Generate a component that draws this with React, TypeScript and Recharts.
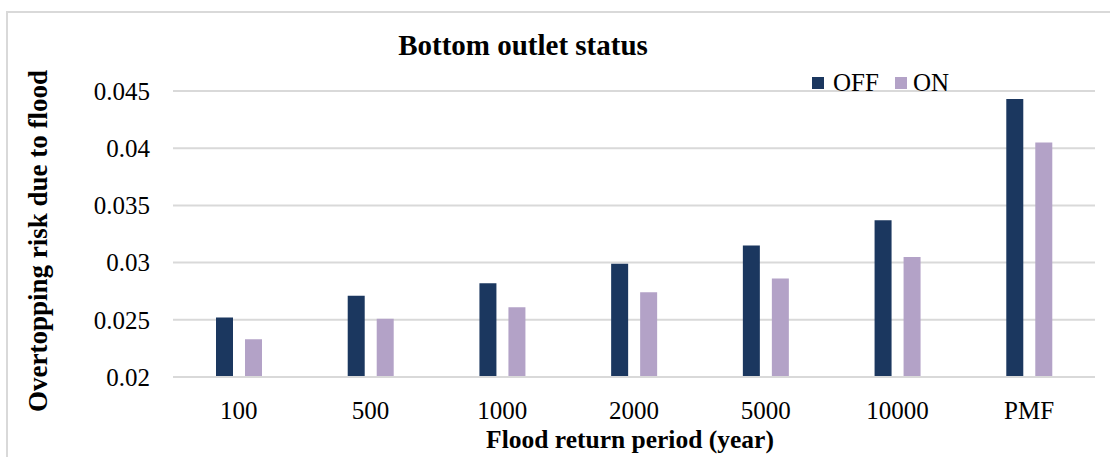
import React from "react";
import {
  BarChart,
  Bar,
  XAxis,
  YAxis,
  CartesianGrid,
  Legend,
} from "recharts";

const periods = ["100", "500", "1000", "2000", "5000", "10000", "PMF"];
const offValues = [0.0252, 0.0271, 0.0282, 0.0299, 0.0315, 0.0337, 0.0443];
const onValues = [0.0233, 0.0251, 0.0261, 0.0274, 0.0286, 0.0305, 0.0405];
const yTicks = [0.02, 0.025, 0.03, 0.035, 0.04, 0.045];

const seriesNames = ["OFF", "ON"];
const seriesColors = ["#1B375F", "#B3A2C7"];

const font = "'Liberation Serif', 'Times New Roman', serif";

const data = periods.map((p, i) => ({
  period: p,
  OFF: offValues[i],
  ON: onValues[i],
}));

const LegendBox = () => (
  <div
    style={{
      display: "flex",
      alignItems: "center",
      fontFamily: font,
      fontSize: 25,
      color: "#000",
      lineHeight: 1,
    }}
  >
    <span
      style={{
        width: 12,
        height: 12,
        background: seriesColors[0],
        marginRight: 9,
        display: "inline-block",
      }}
    />
    <span style={{ marginRight: 16 }}>{seriesNames[0]}</span>
    <span
      style={{
        width: 12,
        height: 12,
        background: seriesColors[1],
        marginRight: 6,
        display: "inline-block",
      }}
    />
    <span>{seriesNames[1]}</span>
  </div>
);

const App: React.FC = () => {
  return (
    <div
      style={{
        position: "absolute",
        left: 0,
        top: 0,
        width: 1110,
        height: 457,
        overflow: "hidden",
        background: "#fff",
      }}
    >
      {/* frame of the chart area, cut off on the right and bottom */}
      <div
        style={{
          position: "absolute",
          left: 6,
          top: 11,
          width: 1200,
          height: 500,
          border: "2px solid #D9D9D9",
        }}
      />
      <div
        style={{
          position: "absolute",
          left: 0,
          width: 1046,
          top: 31,
          textAlign: "center",
          fontFamily: font,
          fontWeight: "bold",
          fontSize: 29,
          lineHeight: 1,
          color: "#000",
        }}
      >
        Bottom outlet status
      </div>
      <div style={{ position: "absolute", left: 0, top: 0 }}>
        <BarChart
          width={1110}
          height={457}
          data={data}
          margin={{ top: 91, right: 15, bottom: 0, left: 0 }}
          barSize={17}
          barGap={12}
        >
          <CartesianGrid
            vertical={false}
            stroke="#D9D9D9"
            strokeWidth={2}
          />
          <XAxis
            dataKey="period"
            height={80}
            axisLine={{ stroke: "#D9D9D9", strokeWidth: 2 }}
            tickLine={false}
            tickSize={0}
            tickMargin={24}
            tick={{ fontFamily: font, fontSize: 25, fill: "#000" }}
            label={{
              content: () => (
                <text
                  x={630}
                  y={448}
                  textAnchor="middle"
                  fontFamily={font}
                  fontWeight="bold"
                  fontSize={25.5}
                  fill="#000"
                >
                  Flood return period (year)
                </text>
              ),
            }}
          />
          <YAxis
            width={173}
            domain={[0.02, 0.045]}
            ticks={yTicks}
            allowDataOverflow
            axisLine={false}
            tickLine={false}
            tickSize={0}
            tickMargin={23}
            tick={{ fontFamily: font, fontSize: 25, fill: "#000" }}
            label={{
              content: () => (
                <text
                  x={47}
                  y={241}
                  transform="rotate(-90 47 241)"
                  textAnchor="middle"
                  fontFamily={font}
                  fontWeight="bold"
                  fontSize={27}
                  fill="#000"
                >
                  Overtopping risk due to flood
                </text>
              ),
            }}
          />
          <Legend
            layout="horizontal"
            verticalAlign="middle"
            align="center"
            content={() => <LegendBox />}
            wrapperStyle={{ position: "absolute", left: 812, top: 70, width: "auto" }}
          />
          <Bar
            dataKey="OFF"
            name={seriesNames[0]}
            fill={seriesColors[0]}
            isAnimationActive={false}
          />
          <Bar
            dataKey="ON"
            name={seriesNames[1]}
            fill={seriesColors[1]}
            isAnimationActive={false}
          />
        </BarChart>
      </div>
    </div>
  );
};

export default App;
